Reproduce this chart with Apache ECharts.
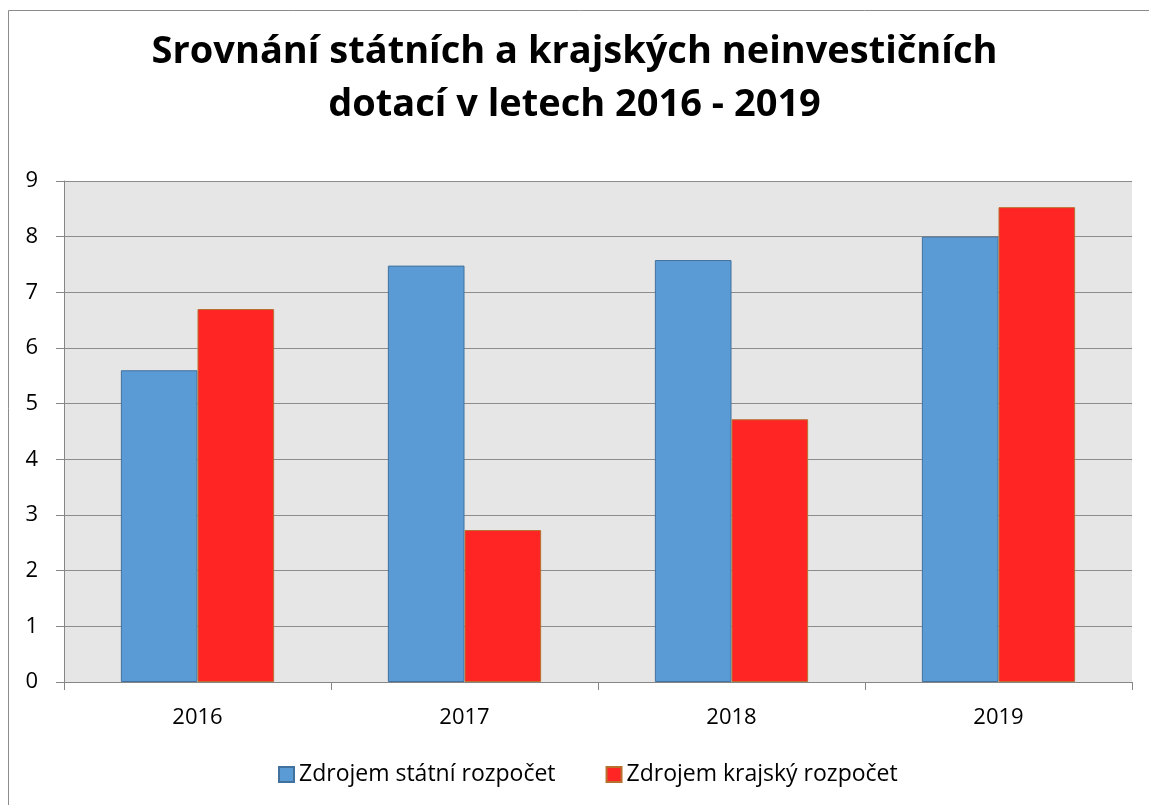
<!DOCTYPE html>
<html>
<head>
<meta charset="utf-8">
<script src="https://cdn.jsdelivr.net/npm/echarts@6/dist/echarts.min.js"></script>
<style>
html,body{margin:0;padding:0;background:#fff;}
#c{width:1149px;height:805px;}
</style>
</head>
<body>
<div id="c"></div>
<script>
var categories = ['2016', '2017', '2018', '2019'];
var statniValues = [5.6, 7.48, 7.58, 8.0];
var krajskyValues = [6.7, 2.73, 4.72, 8.53];
var yTicks = [0, 1, 2, 3, 4, 5, 6, 7, 8, 9];
var seriesNames = ['Zdrojem státní rozpočet', 'Zdrojem krajský rozpočet'];
var titleText = 'Srovnání státních a krajských neinvestičních\ndotací v letech 2016 - 2019';

var chart = echarts.init(document.getElementById('c'), null, {renderer: 'canvas'});
var font = '"Open Sans", "DejaVu Sans", sans-serif';
chart.setOption({
  backgroundColor: '#fff',
  animation: false,
  textStyle: {fontFamily: font},
  graphic: [{
    type: 'rect',
    shape: {x: 8.5, y: 10.5, width: 1150, height: 800},
    style: {fill: 'none', stroke: '#8c8c8c', lineWidth: 1},
    z: -1
  }],
  title: {
    text: titleText,
    left: 'center',
    top: 21,
    textStyle: {fontFamily: font, fontWeight: 'bold', fontSize: 38, color: '#000', lineHeight: 53}
  },
  legend: {
    data: seriesNames,
    bottom: 14,
    left: 273,
    itemWidth: 15,
    itemHeight: 15,
    itemGap: 50,
    icon: 'rect',
    textStyle: {fontFamily: font, fontSize: 23, color: '#000'}
  },
  grid: {
    left: 64, right: 17, top: 181, bottom: 123,
    show: true, backgroundColor: '#e6e6e6', borderWidth: 0,
    containLabel: false
  },
  xAxis: {
    type: 'category',
    data: categories,
    axisLine: {show: true, lineStyle: {color: '#868686', width: 1}},
    axisTick: {show: true, length: 8, lineStyle: {color: '#868686'}},
    axisLabel: {fontFamily: font, fontSize: 22, color: '#000', margin: 25},
    splitLine: {show: false}
  },
  yAxis: {
    type: 'value',
    min: 0, max: 9, interval: 1,
    axisLine: {show: true, lineStyle: {color: '#868686', width: 1}},
    axisTick: {show: true, length: 8, lineStyle: {color: '#868686'}},
    axisLabel: {fontFamily: font, fontSize: 22, color: '#000', margin: 26,
      formatter: function (v) { return yTicks.indexOf(v) >= 0 ? String(v) : ''; }},
    splitLine: {show: true, lineStyle: {color: '#8c8c8c', width: 1}}
  },
  series: [{
    name: seriesNames[0],
    type: 'bar',
    data: statniValues,
    barGap: '0%',
    barCategoryGap: '42.6%',
    itemStyle: {color: '#5b9bd5', borderColor: '#41719c', borderWidth: 1}
  }, {
    name: seriesNames[1],
    type: 'bar',
    data: krajskyValues,
    itemStyle: {color: '#ff2525', borderColor: '#b8702f', borderWidth: 1}
  }]
});
</script>
</body>
</html>
